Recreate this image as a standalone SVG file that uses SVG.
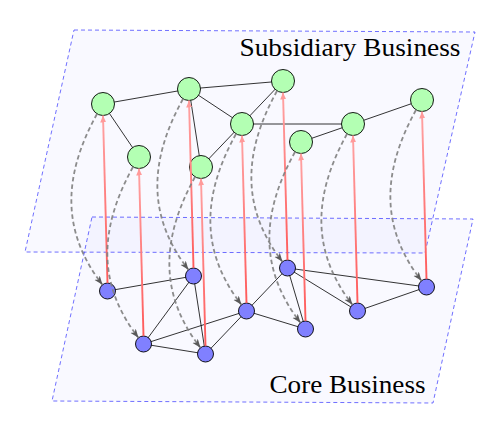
<svg xmlns="http://www.w3.org/2000/svg" width="501" height="425" viewBox="0 0 501 425">
<defs>
<style>
.plane{fill:#0000ff;fill-opacity:0.022;stroke:#2a2aff;stroke-opacity:0.75;stroke-width:0.9;stroke-dasharray:4 3}
.edge{stroke:#000;stroke-width:0.8;fill:none}
.top circle{fill:#b3ffb3;stroke:#000;stroke-width:0.9}
.bot circle{fill:#8080ff;stroke:#000;stroke-width:0.9}
.red{stroke:url(#rg);stroke-width:1.9;fill:none;marker-end:url(#ra)}
.gray{stroke:#808080;stroke-opacity:0.9;stroke-width:1.8;stroke-dasharray:4.5 3;fill:none;marker-end:url(#ga)}
.lbl{font-family:"Liberation Serif","Times New Roman",serif;font-size:25px;fill:#000}
</style>
<linearGradient id="rg" x1="0" y1="1" x2="0" y2="0">
<stop offset="0" stop-color="#ff5a5a"/>
<stop offset="1" stop-color="#ffa3a3"/>
</linearGradient>
<marker id="ra" markerUnits="userSpaceOnUse" markerWidth="10" markerHeight="8" refX="7" refY="3" orient="auto">
<path d="M0,0 L7,3 L0,6 z" fill="#ff9a9a"/>
</marker>
<marker id="ga" markerUnits="userSpaceOnUse" markerWidth="11" markerHeight="9" refX="9" refY="3.5" orient="auto">
<path d="M0,0 L9,3.5 L0,7 L2.5,3.5 z" fill="#5a5a5a"/>
</marker>
</defs>

<g id="planes">
<polygon id="core-plane" class="plane" points="92,217 473,219 433,403 52,401"/>
<polygon id="subsidiary-plane" class="plane" points="74,30 475,32 425,253 25,252"/>
</g>

<g id="labels">
<text class="lbl" x="239.5" y="55.5" textLength="221" lengthAdjust="spacingAndGlyphs">Subsidiary Business</text>
<text class="lbl" x="269.5" y="392.5" textLength="156" lengthAdjust="spacingAndGlyphs">Core Business</text>
</g>

<g id="connectors">
<g id="top-edges" class="edge">
<line x1="103" y1="104" x2="189" y2="89"/>
<line x1="103" y1="104" x2="139" y2="157"/>
<line x1="189" y1="89" x2="283" y2="81"/>
<line x1="189" y1="89" x2="242" y2="124"/>
<line x1="189" y1="89" x2="201" y2="167"/>
<line x1="201" y1="167" x2="242" y2="124"/>
<line x1="242" y1="124" x2="283" y2="81"/>
<line x1="242" y1="124" x2="353" y2="124"/>
<line x1="301" y1="142" x2="353" y2="124"/>
<line x1="353" y1="124" x2="422" y2="100"/>
</g>
<g id="bottom-edges" class="edge">
<line x1="107.5" y1="291" x2="193.5" y2="276"/>
<line x1="143.5" y1="344" x2="193.5" y2="276"/>
<line x1="143.5" y1="344" x2="246.5" y2="311"/>
<line x1="143.5" y1="344" x2="205.5" y2="354"/>
<line x1="193.5" y1="276" x2="205.5" y2="354"/>
<line x1="205.5" y1="354" x2="246.5" y2="311"/>
<line x1="246.5" y1="311" x2="287.5" y2="268"/>
<line x1="246.5" y1="311" x2="305.5" y2="329"/>
<line x1="287.5" y1="268" x2="305.5" y2="329"/>
<line x1="287.5" y1="268" x2="357.5" y2="311"/>
<line x1="287.5" y1="268" x2="426.5" y2="287"/>
<line x1="357.5" y1="311" x2="426.5" y2="287"/>
</g>
</g>

<g id="core-nodes" class="bot">
<g id="a"><circle cx="107.5" cy="291" r="8"/></g>
<g id="b"><circle cx="143.5" cy="344" r="8"/></g>
<g id="c"><circle cx="193.5" cy="276" r="8"/></g>
<g id="d"><circle cx="205.5" cy="354" r="8"/></g>
<g id="e"><circle cx="246.5" cy="311" r="8"/></g>
<g id="f"><circle cx="287.5" cy="268" r="8"/></g>
<g id="g"><circle cx="305.5" cy="329" r="8"/></g>
<g id="h"><circle cx="357.5" cy="311" r="8"/></g>
<g id="i"><circle cx="426.5" cy="287" r="8"/></g>
</g>

<g id="subsidiary-nodes" class="top">
<g id="A"><circle cx="103" cy="104" r="11.5"/></g>
<g id="B"><circle cx="139" cy="157" r="11.5"/></g>
<g id="C"><circle cx="189" cy="89" r="11.5"/></g>
<g id="D"><circle cx="201" cy="167" r="11.5"/></g>
<g id="E"><circle cx="242" cy="124" r="11.5"/></g>
<g id="F"><circle cx="283" cy="81" r="11.5"/></g>
<g id="G"><circle cx="301" cy="142" r="11.5"/></g>
<g id="H"><circle cx="353" cy="124" r="11.5"/></g>
<g id="I"><circle cx="422" cy="100" r="11.5"/></g>
</g>

<g id="mappings">
<g id="up-arrows">
<line class="red" x1="107.5" y1="283" x2="103" y2="115.5"/>
<line class="red" x1="143.5" y1="336" x2="139" y2="168.5"/>
<line class="red" x1="193.5" y1="268" x2="189" y2="100.5"/>
<line class="red" x1="205.5" y1="346" x2="201" y2="178.5"/>
<line class="red" x1="246.5" y1="303" x2="242" y2="135.5"/>
<line class="red" x1="287.5" y1="260" x2="283" y2="92.5"/>
<line class="red" x1="305.5" y1="321" x2="301" y2="153.5"/>
<line class="red" x1="357.5" y1="303" x2="353" y2="135.5"/>
<line class="red" x1="426.5" y1="279" x2="422" y2="111.5"/>
</g>
<g id="down-arrows">
<path class="gray" d="M97,114 C61,179 63,234 102.5,284.8"/>
<path class="gray" d="M133,167 C97,232 99,287 138.5,337.8"/>
<path class="gray" d="M183,99 C147,164 149,219 188.5,269.8"/>
<path class="gray" d="M195,177 C159,242 161,297 200.5,347.8"/>
<path class="gray" d="M236,134 C200,199 202,254 241.5,304.8"/>
<path class="gray" d="M277,91 C241,156 243,211 282.5,261.8"/>
<path class="gray" d="M295,152 C259,217 261,272 300.5,322.8"/>
<path class="gray" d="M347,134 C311,199 313,254 352.5,304.8"/>
<path class="gray" d="M416,110 C380,175 382,230 421.5,280.8"/>
</g>
</g>
</svg>
